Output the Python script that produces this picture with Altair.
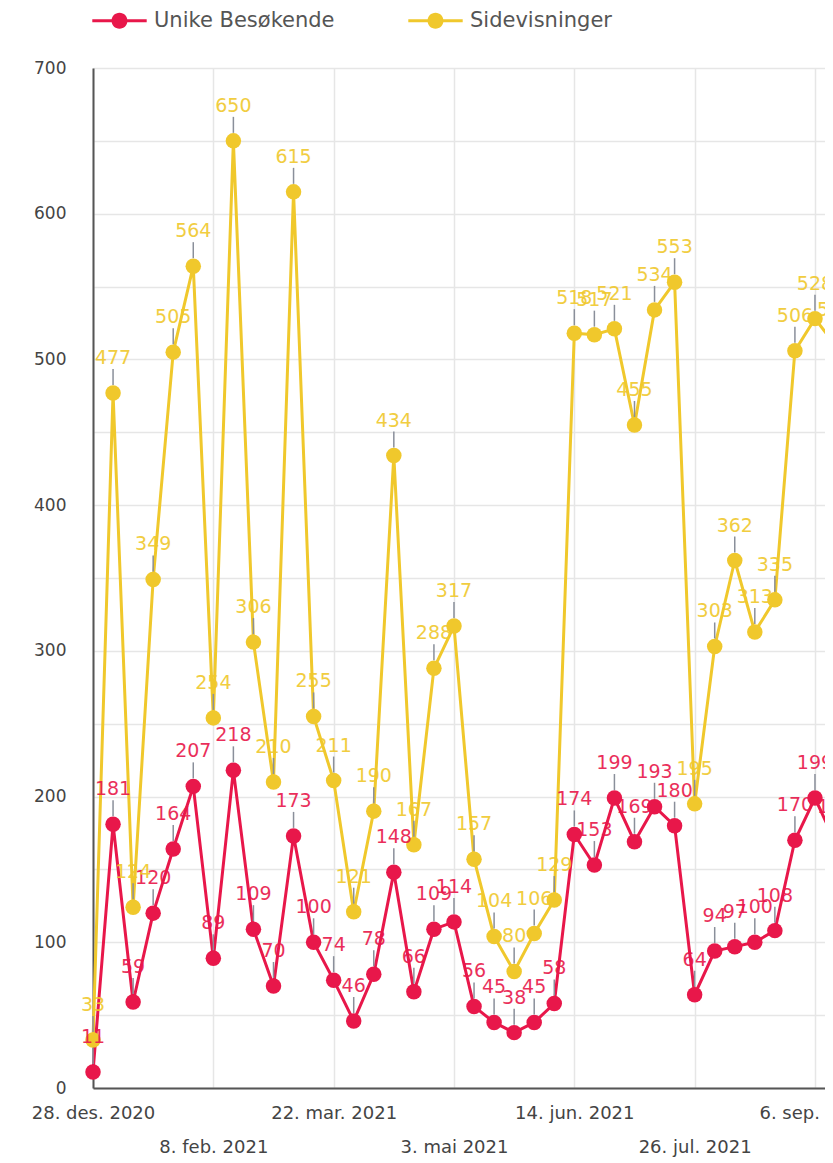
import json
import altair as alt
import pandas as pd

series_names = ["Unike Besøkende", "Sidevisninger"]
series_colors = ["#E8174A", "#F0C82C"]

weeks = list(range(38))
unike = [11, 181, 59, 120, 164, 207, 89, 218, 109, 70, 173, 100, 74, 46, 78, 148, 66, 109, 114,
         56, 45, 38, 45, 58, 174, 153, 199, 169, 193, 180, 64, 94, 97, 100, 108, 170, 199, 169]
sider = [33, 477, 124, 349, 505, 564, 254, 650, 306, 210, 615, 255, 211, 121, 190, 434, 167, 288, 317,
         157, 104, 80, 106, 129, 518, 517, 521, 455, 534, 553, 195, 303, 362, 313, 335, 506, 528, 510]

tick_weeks = [0, 6, 12, 18, 24, 30, 36]
tick_labels = ["28. des. 2020", "8. feb. 2021", "22. mar. 2021", "3. mai 2021",
               "14. jun. 2021", "26. jul. 2021", "6. sep. 2021"]

y_grid = list(range(0, 701, 50))

rows = []
for w, u, s in zip(weeks, unike, sider):
    rows.append({"week": w, "serie": series_names[0], "value": u})
    rows.append({"week": w, "serie": series_names[1], "value": s})
df = pd.DataFrame(rows)

FONT = "DejaVu Sans"

lab_js = json.dumps(tick_labels)
label_expr = (f"(round(datum.value/6) % 2 == 1) ? ['', {lab_js}[round(datum.value/6)]] "
              f": {lab_js}[round(datum.value/6)]")

x = alt.X("week:Q",
          scale=alt.Scale(domain=[0, 36.5], nice=False, zero=False),
          axis=alt.Axis(values=tick_weeks, labelExpr=label_expr, title=None,
                        grid=True, gridColor="#e6e6e6", gridWidth=1.5,
                        domainColor="#555", domainWidth=2, ticks=False,
                        labelFontSize=18, labelColor="#444", labelFont=FONT,
                        labelPadding=16, labelLineHeight=34, labelOverlap=False,
                        labelBound=False, labelFlush=False))
y = alt.Y("value:Q",
          scale=alt.Scale(domain=[0, 700], nice=False),
          axis=alt.Axis(values=y_grid, labelExpr="datum.value % 100 == 0 ? datum.label : ''",
                        title=None, grid=True, gridColor="#e6e6e6", gridWidth=1.5,
                        domainColor="#555", domainWidth=2, ticks=False,
                        labelFontSize=17, labelColor="#444", labelFont=FONT,
                        labelPadding=27))

legend_path = ("M-3.4,-0.2 L3.4,-0.2 L3.4,0.2 L-3.4,0.2 Z "
               "M1,0 A1,1 0 1,1 -1,0 A1,1 0 1,1 1,0 Z")
color = alt.Color("serie:N",
                  scale=alt.Scale(domain=series_names, range=series_colors),
                  legend=alt.Legend(title=None, orient="none", direction="horizontal",
                                    legendX=-12, legendY=-58,
                                    symbolType=legend_path, symbolSize=256,
                                    symbolStrokeWidth=0, symbolOffset=28,
                                    labelFontSize=21, labelColor="#555", labelFont=FONT,
                                    labelOffset=24, labelLimit=400, columnPadding=62))

base = alt.Chart(df).encode(x=x, y=y, color=color)

layers = []
for name in series_names:
    sub = base.transform_filter(alt.datum.serie == name)
    layers.append(sub.mark_line(strokeWidth=3))
    layers.append(sub.mark_point(filled=True, size=240, opacity=1))

for name in series_names:
    sub = alt.Chart(df).transform_filter(alt.datum.serie == name)
    layers.append(sub.mark_rule(color="#8a8f9a", strokeWidth=1.5, yOffset=-8, y2Offset=-24)
                  .encode(x=alt.X("week:Q"), y=alt.Y("value:Q"), y2="value:Q"))

for name in series_names:
    sub = base.transform_filter(alt.datum.serie == name)
    layers.append(sub.mark_text(fontSize=19, font=FONT, dy=-29, baseline="alphabetic",
                                opacity=0.9)
                  .encode(text="value:Q"))

chart = alt.layer(*layers).properties(
    width=732, height=1020,
    autosize=alt.AutoSizeParams(type="none"),
    padding={"left": 85, "top": 60, "right": 0, "bottom": 70},
).configure_view(stroke=None)

chart.save("out.html", embed_options={"renderer": "svg", "actions": False})
